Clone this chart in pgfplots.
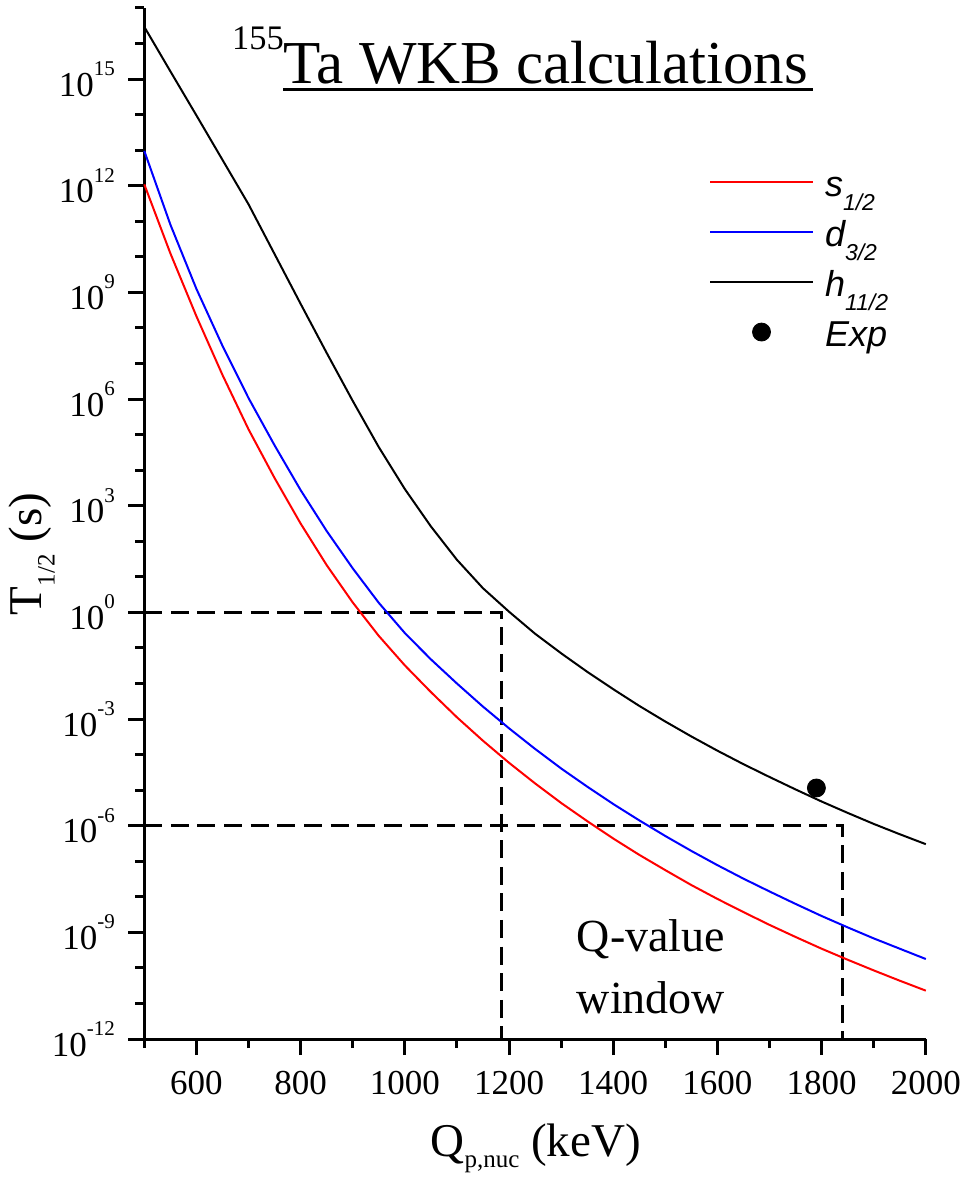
\documentclass[border=0pt]{standalone}
\usepackage{pgfplots}
\pgfplotsset{compat=1.18}
\usepackage{fontspec}
\setmainfont{Liberation Serif}
\newfontfamily\legendfont{Liberation Sans}

% tick-label font and powers of ten written Origin-style
\newcommand{\tkfont}{\fontsize{17.5}{17.5}\selectfont}
\newcommand{\pw}[1]{10\raisebox{10.3pt}{\fontsize{10.5}{10.5}\selectfont #1}}
\newcommand{\sub}[1]{\raisebox{-7pt}{\fontsize{11.5}{11.5}\selectfont #1}}

\definecolor{sred}{RGB}{255,0,0}
\definecolor{dblue}{RGB}{0,0,255}

\begin{document}
\begin{tikzpicture}
\path[use as bounding box] (-72.15pt,-71pt) rectangle (411.35pt,519.5pt);
\begin{axis}[
  at={(0pt,0pt)}, anchor=south west,
  scale only axis, width=390.75pt, height=515.5pt,
  xmin=500, xmax=2000,
  ymode=log, ymin=1e-12, ymax=1e17,
  axis x line*=bottom, axis y line*=left,
  axis line style={line width=1.5pt, -},
  tick align=outside,
  major tick length=8pt, minor tick length=4.5pt,
  every tick/.style={black, line width=1.5pt},
  xtick={600,800,1000,1200,1400,1600,1800,2000},
  xticklabels={600,800,1000,1200,1400,1600,1800,2000},
  minor xtick={500,700,900,1100,1300,1500,1700,1900},
  ytick={1e-12,1e-9,1e-6,1e-3,1,1e3,1e6,1e9,1e12,1e15},
  yticklabels={\pw{-12},\pw{-9},\pw{-6},\pw{-3},\pw{0},\pw{3},\pw{6},\pw{9},\pw{12},\pw{15}},
  minor ytick={1e-11,1e-10,1e-8,1e-7,1e-5,1e-4,1e-2,1e-1,1e1,1e2,1e4,1e5,1e7,1e8,1e10,1e11,1e13,1e14,1e16,1e17},
  ticklabel style={font=\tkfont},
  xticklabel style={inner sep=0pt, anchor=north, yshift=-8pt},
  yticklabel style={inner sep=0pt, anchor=east, xshift=-6.5pt},
  xlabel={Q\raisebox{-5.5pt}{\fontsize{12.5}{12.5}\selectfont p,nuc} (keV)},
  ylabel={T\raisebox{-6.5pt}{\fontsize{12.5}{12.5}\selectfont 1/2} (s)},
  xlabel style={at={(axis description cs:0.5009,-0.1142)}, anchor=base, inner sep=0pt, font=\fontsize{23.5}{23.5}\selectfont},
  ylabel style={at={(axis description cs:-0.1313,0.4704)}, anchor=base, inner sep=0pt, font=\fontsize{23.5}{23.5}\selectfont},
  legend cell align=left,
  legend style={
    at={(axis description cs:0.7226,0.8500)}, anchor=north west,
    draw=none, fill=none, inner sep=0pt, outer sep=0pt,
    row sep=5.6pt, column sep=5.5pt,
    nodes={inner sep=0pt, outer sep=0pt, text height=17pt, text depth=2.4pt, anchor=west},
    font=\legendfont\itshape\fontsize{18}{18}\selectfont,
  },
  legend image code/.code={\draw[mark repeat=2,mark phase=2,#1] plot coordinates {(0pt,0pt) (25.75pt,0pt) (51.5pt,0pt)};},
  clip=false,
]
% Q-value window boxes
\addplot[black, line width=1.5pt, dash pattern=on 9pt off 4.3pt, forget plot]
  coordinates {(500,1) (1186,1) (1186,1e-12) (500,1e-12) (500,1)};
\addplot[black, line width=1.5pt, dash pattern=on 9pt off 4.3pt, forget plot]
  coordinates {(500,1e-6) (1841,1e-6) (1841,1e-12)};

% s1/2
\addplot[sred, line width=1pt, mark=none] coordinates {
(500,1.096e12) (550,1.259e10) (600,2.138e8) (650,4.786e6) (700,1.413e5)
(750,6.026e3) (800,3.162e2) (850,2.138e1) (900,1.905e0) (950,2.188e-1)
(1000,3.236e-2) (1050,5.754e-3) (1100,1.122e-3) (1150,2.455e-4) (1200,5.888e-5)
(1250,1.549e-5) (1300,4.365e-6) (1350,1.349e-6) (1400,4.365e-7) (1450,1.514e-7)
(1500,5.623e-8) (1550,2.138e-8) (1600,8.710e-9) (1650,3.715e-9) (1700,1.622e-9)
(1750,7.413e-10) (1800,3.467e-10) (1850,1.698e-10) (1900,8.511e-11) (1950,4.365e-11)
(2000,2.291e-11)};
\addlegendentry{s\sub{1/2}}

% d3/2
\addplot[dblue, line width=1pt, mark=none] coordinates {
(500,9.550e12) (550,8.128e10) (600,1.259e9) (650,3.162e7) (700,1.072e6)
(750,5.012e4) (800,2.754e3) (850,1.950e2) (900,1.738e1) (950,1.862e0)
(1000,2.630e-1) (1050,4.786e-2) (1100,1.000e-2) (1150,2.239e-3) (1200,5.495e-4)
(1250,1.445e-4) (1300,4.074e-5) (1350,1.259e-5) (1400,4.074e-6) (1450,1.413e-6)
(1500,5.129e-7) (1550,1.950e-7) (1600,7.762e-8) (1650,3.236e-8) (1700,1.413e-8)
(1750,6.310e-9) (1800,2.884e-9) (1850,1.380e-9) (1900,6.761e-10) (1950,3.467e-10)
(2000,1.778e-10)};
\addlegendentry{d\sub{3/2}}

% h11/2
\addplot[black, line width=1pt, mark=none] coordinates {
(500,2.951e16) (550,1.660e15) (600,9.550e13) (650,5.370e12) (700,3.020e11)
(750,1.202e10) (800,4.786e8) (850,1.995e7) (900,8.913e5) (950,4.467e4)
(1000,2.951e3) (1050,2.630e2) (1100,3.020e1) (1150,4.786e0) (1200,1.047e0)
(1250,2.512e-1) (1300,7.079e-2) (1350,2.138e-2) (1400,6.918e-3) (1450,2.344e-3)
(1500,8.511e-4) (1550,3.236e-4) (1600,1.288e-4) (1650,5.370e-5) (1700,2.344e-5)
(1750,1.047e-5) (1800,4.786e-6) (1850,2.291e-6) (1900,1.122e-6) (1950,5.754e-7)
(2000,3.020e-7)};
\addlegendentry{h\sub{11/2}}

% measured half-life
\addplot[black, only marks, mark=*, mark size=4.5pt] coordinates {(1790,1.15e-5)};
\addlegendentry{Exp}
\end{axis}

% title
\node[anchor=base west, inner sep=0pt] at (43.7pt,494.85pt) {\fontsize{17.2}{17.2}\selectfont 155};
\node[anchor=base west, inner sep=0pt] at (69.5pt,477.85pt) {\fontsize{30.5}{30.5}\selectfont Ta WKB calculations};
\draw[line width=1.2pt] (69.5pt,474.75pt) -- (334.1pt,474.75pt);

% window annotation
\node[anchor=base, inner sep=0pt] at (253.35pt,43.65pt) {\fontsize{23}{23}\selectfont Q-value};
\node[anchor=base, inner sep=0pt] at (253.35pt,12.85pt) {\fontsize{23}{23}\selectfont window};
\end{tikzpicture}
\end{document}
